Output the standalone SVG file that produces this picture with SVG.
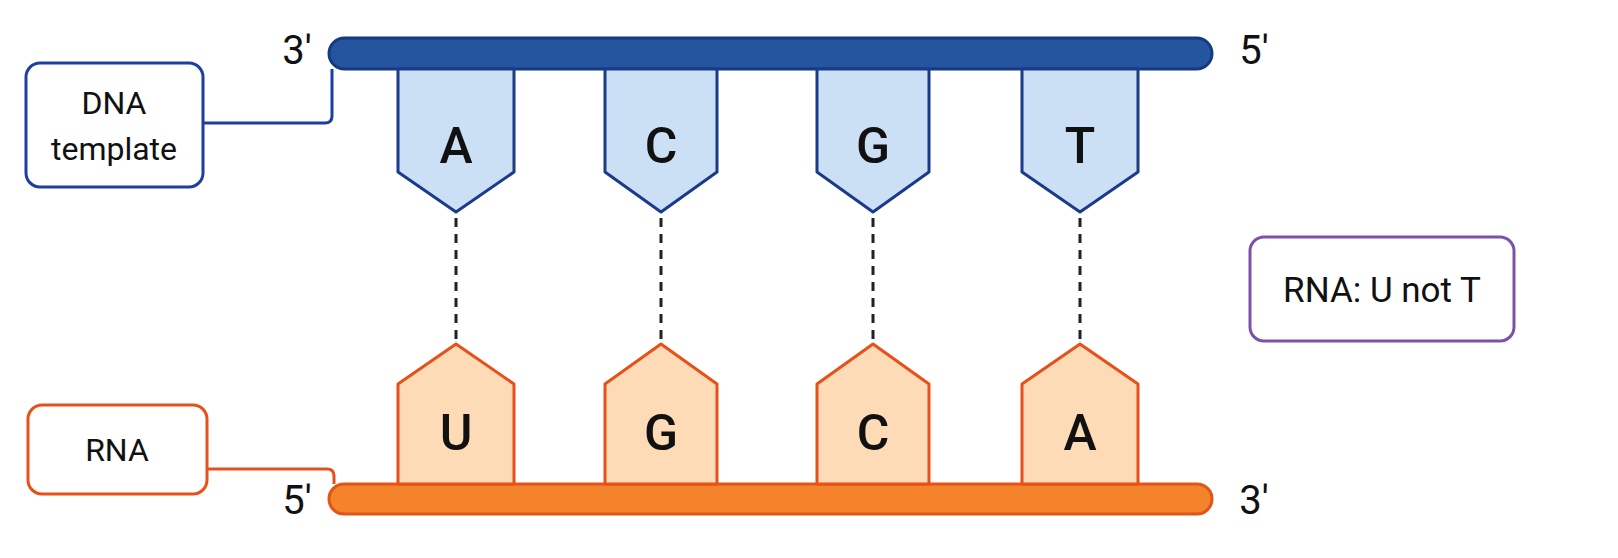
<svg xmlns="http://www.w3.org/2000/svg" width="1618" height="558" viewBox="0 0 1618 558">
<style>
text{font-family:"Roboto","Liberation Sans",sans-serif;fill:#111;text-anchor:middle}
.end{font-size:40px}
.base{font-size:50px;font-weight:500}
.lbl{font-size:32px}
.dna{fill:#cbe0f5;stroke:#1b3a8a;stroke-width:3;stroke-linejoin:round}
.rna{fill:#fddbb6;stroke:#e8501a;stroke-width:3;stroke-linejoin:round}
.box{fill:#fff;stroke-width:3}
.dash{stroke:#222;stroke-width:3;stroke-dasharray:9 7;fill:none}
</style>
<rect width="1618" height="558" fill="#fff"/>
<g id="dna-strand">
<rect x="329" y="38" width="883" height="31" rx="15.5" fill="#25559f" stroke="#143a82" stroke-width="3"/>
<text class="end" x="297" y="64">3′</text>
<text class="end" x="1254" y="64">5′</text>
</g>
<g id="rna-strand">
<rect x="329" y="484" width="883" height="30" rx="15" fill="#f5832b" stroke="#e0561a" stroke-width="3"/>
<text class="end" x="297" y="514">5′</text>
<text class="end" x="1254" y="514">3′</text>
</g>
<g id="dna-A"><path class="dna" d="M398 69V172L456 212L514 172V69Z"/><text class="base" x="456" y="163">A</text></g>
<g id="dna-C"><path class="dna" d="M605 69V172L661 212L717 172V69Z"/><text class="base" x="661" y="163">C</text></g>
<g id="dna-G"><path class="dna" d="M817 69V172L873 212L929 172V69Z"/><text class="base" x="873" y="163">G</text></g>
<g id="dna-T"><path class="dna" d="M1022 69V172L1080 212L1138 172V69Z"/><text class="base" x="1080" y="163">T</text></g>
<g id="rna-U"><path class="rna" d="M398 484V384L456 344L514 384V484Z"/><text class="base" x="456" y="450">U</text></g>
<g id="rna-G"><path class="rna" d="M605 484V384L661 344L717 384V484Z"/><text class="base" x="661" y="450">G</text></g>
<g id="rna-C"><path class="rna" d="M817 484V384L873 344L929 384V484Z"/><text class="base" x="873" y="450">C</text></g>
<g id="rna-A"><path class="rna" d="M1022 484V384L1080 344L1138 384V484Z"/><text class="base" x="1080" y="450">A</text></g>
<g id="dna-template-label"><rect class="box" x="26" y="63" width="177" height="124" rx="14" stroke="#1e3f9f"/><text class="lbl" x="114" y="114">DNA</text><text class="lbl" x="114" y="160">template</text></g>
<g id="rna-label"><rect class="box" x="28" y="405" width="179" height="89" rx="14" stroke="#e8501a"/><text class="lbl" x="117" y="461">RNA</text></g>
<g id="note"><rect class="box" x="1250" y="237" width="264" height="104" rx="14" stroke="#7b52ab"/><text class="lbl" x="1382" y="302" style="font-size:35px">RNA: U not T</text></g>
<g id="connectors">
<path d="M203 123H325Q332 123 332 116V69" fill="none" stroke="#1e3f9f" stroke-width="3"/>
<path d="M207 469H327Q334 469 334 476V484" fill="none" stroke="#e8501a" stroke-width="3"/>
<path class="dash" d="M456 218V340M661 218V340M873 218V340M1080 218V340"/>
</g>
</svg>
